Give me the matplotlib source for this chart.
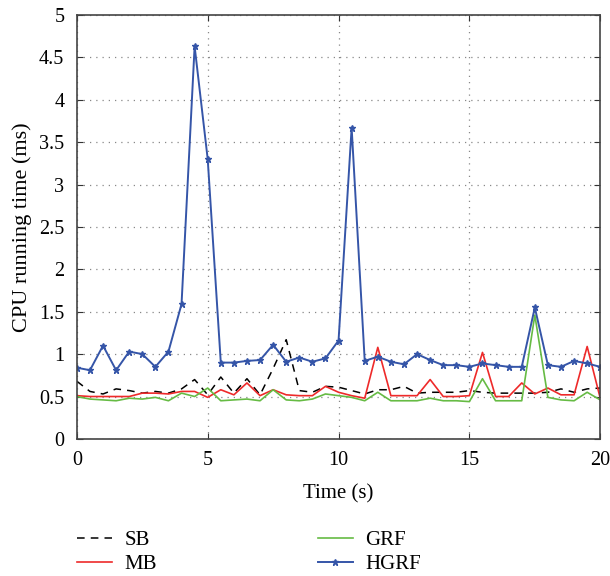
import numpy as np
import matplotlib
matplotlib.use("Agg")
import matplotlib.pyplot as plt

# Tiempo de muestreo (s), cada 0.5 s
time_s = np.arange(0, 20.5, 0.5)

sb = [0.68, 0.56, 0.53, 0.59, 0.57, 0.54, 0.56, 0.54, 0.59, 0.70,
      0.52, 0.73, 0.54, 0.71, 0.52, 0.83, 1.17, 0.57, 0.55, 0.62,
      0.61, 0.57, 0.53, 0.58, 0.58, 0.62, 0.54, 0.55, 0.55, 0.55,
      0.57, 0.55, 0.54, 0.54, 0.54, 0.54, 0.55, 0.59, 0.55, 0.59, 0.60]
mb = [0.51, 0.50, 0.50, 0.50, 0.50, 0.54, 0.54, 0.53, 0.56, 0.56,
      0.49, 0.58, 0.52, 0.66, 0.51, 0.58, 0.52, 0.51, 0.51, 0.62,
      0.55, 0.51, 0.48, 1.08, 0.51, 0.51, 0.51, 0.70, 0.50, 0.50,
      0.51, 1.02, 0.50, 0.50, 0.66, 0.53, 0.60, 0.52, 0.52, 1.09, 0.48]
grf = [0.50, 0.47, 0.46, 0.45, 0.48, 0.47, 0.49, 0.45, 0.54, 0.50,
       0.60, 0.45, 0.46, 0.47, 0.45, 0.58, 0.46, 0.45, 0.47, 0.53,
       0.51, 0.49, 0.45, 0.55, 0.45, 0.45, 0.45, 0.48, 0.45, 0.45,
       0.44, 0.71, 0.45, 0.45, 0.45, 1.46, 0.49, 0.46, 0.45, 0.55, 0.46]
hgrf = [0.84, 0.81, 1.10, 0.81, 1.03, 1.00, 0.85, 1.03, 1.59, 4.63,
        3.30, 0.90, 0.90, 0.92, 0.93, 1.11, 0.91, 0.96, 0.91, 0.95,
        1.16, 3.67, 0.92, 0.97, 0.91, 0.88, 1.00, 0.93, 0.87, 0.87,
        0.85, 0.89, 0.87, 0.85, 0.85, 1.55, 0.87, 0.85, 0.92, 0.89, 0.85]

ytick_labels = ['0', '0.5', '1', '1.5', '2', '2.5', '3', '3.5', '4', '4.5', '5']

plt.rcParams['font.family'] = ['Liberation Serif', 'DejaVu Serif']
plt.rcParams['font.size'] = 14.5

fig = plt.figure(figsize=(6.10, 5.76), dpi=100)
ax = fig.add_axes([0.126, 0.238, 0.858, 0.736])

ax.plot(time_s, sb, color='black', linestyle=(0, (5, 4)), linewidth=1.1, label='SB')
ax.plot(time_s, mb, color='#ee2a2a', linewidth=1.2, label='MB')
ax.plot(time_s, grf, color='#66bb44', linewidth=1.2, label='GRF')
ax.plot(time_s, hgrf, color='#3555a8', linewidth=1.4, marker='*',
        markersize=4.5, label='HGRF')

ax.set_xlim(0, 20)
ax.set_ylim(0, 5)
ax.set_xticks([0, 5, 10, 15, 20])
ax.set_yticks(np.arange(0, 5.01, 0.5))
ax.set_yticklabels(ytick_labels)
ax.grid(True, color='#888888', linestyle=(0, (1, 4)), linewidth=0.9)
ax.tick_params(direction='in', top=True, right=True, length=4, pad=9,
               color='#333333', labelsize=14.5)
for sp in ax.spines.values():
    sp.set_color('#444444')
    sp.set_linewidth(1.2)

ax.set_xlabel('Time (s)', fontsize=15, labelpad=10)
ax.set_ylabel('CPU running time (ms)', fontsize=16, labelpad=5)

fig.legend(loc='upper left', bbox_to_anchor=(0.126, 0.079), ncol=2, frameon=False,
           borderpad=0, borderaxespad=0, columnspacing=7.7, handlelength=1.7,
           handletextpad=0.6, labelspacing=0.2, numpoints=1, fontsize=15)

fig.savefig('out.png', dpi=100)
